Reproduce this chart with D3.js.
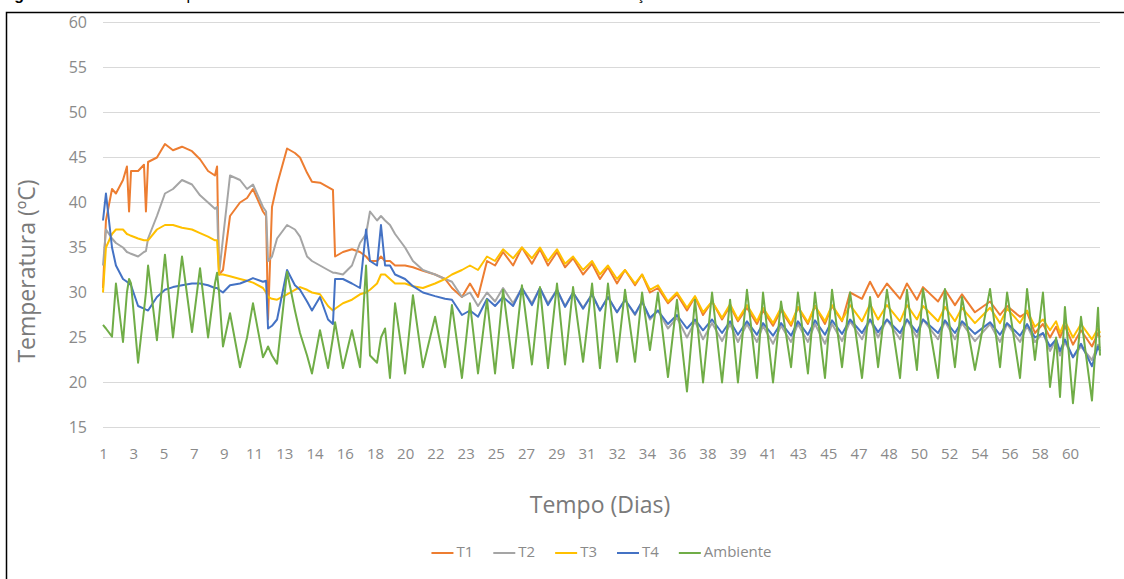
<!DOCTYPE html>
<html>
<head>
<meta charset="utf-8">
<script src="https://cdn.jsdelivr.net/npm/d3@7"></script>
<style>
  body { margin: 0; background: #fff; }
  svg { display: block; }
</style>
</head>
<body>
<svg id="chart" width="1124" height="579"></svg>
<script>
// reading times (days) shared by every series
const dias = [1.00,1.18,1.55,1.79,2.22,2.46,2.59,2.71,3.14,3.50,
  3.62,3.75,4.29,4.78,5.27,5.82,6.43,6.92,7.41,7.83,
  7.96,8.08,8.32,8.75,9.36,9.79,10.15,10.76,10.95,11.07,
  11.31,11.62,12.23,12.71,13.02,13.45,13.75,14.24,14.73,15.03,
  15.16,15.64,16.19,16.68,17.05,17.29,17.72,17.96,18.21,18.51,
  18.82,19.43,19.91,20.52,21.26,21.87,22.29,22.90,23.39,23.88,
  24.43,24.92,25.41,26.02,26.56,27.17,27.66,28.15,28.70,29.19,
  29.68,30.29,30.84,31.32,31.81,32.36,32.85,33.46,33.89,34.37,
  34.86,35.47,36.02,36.63,37.12,37.61,38.16,38.77,39.26,39.74,
  40.29,40.90,41.27,41.88,42.37,42.98,43.40,44.01,44.44,45.05,
  45.48,46.09,46.58,47.31,47.80,48.29,48.83,49.63,50.05,50.66,
  51.03,51.95,52.37,52.98,53.41,54.20,55.12,55.73,56.16,56.95,
  57.38,57.86,58.35,58.78,59.15,59.39,59.69,60.18,60.67,61.34,
  61.71,61.83];

const t1 = [30.5,38.0,41.5,41.0,42.5,44.0,39.0,43.5,43.5,44.2,
  39.0,44.5,45.0,46.5,45.8,46.2,45.7,44.8,43.5,43.0,
  44.0,32.0,32.5,38.5,40.0,40.5,41.5,39.0,38.5,27.0,
  39.5,42.0,46.0,45.5,45.0,43.3,42.3,42.2,41.7,41.4,
  34.0,34.5,34.8,34.5,34.0,33.5,33.5,34.0,33.5,33.5,
  33.0,33.0,32.8,32.4,32.0,31.5,30.5,29.5,31.0,29.5,
  33.5,33.0,34.5,33.0,35.0,33.2,34.8,33.0,34.5,32.8,
  33.8,32.0,33.2,31.5,32.8,31.0,32.5,30.8,32.0,30.0,
  30.5,28.8,29.8,28.0,29.5,27.5,29.0,27.0,28.5,26.8,
  28.3,26.5,28.0,26.3,28.0,26.3,28.3,26.5,28.5,26.5,
  28.5,26.8,30.0,29.3,31.2,29.5,31.0,29.3,31.0,29.2,
  30.6,29.0,30.3,28.6,29.8,27.8,29.0,27.5,28.5,27.3,
  27.8,25.5,26.5,25.0,26.2,25.0,26.3,24.2,25.8,24.0,
  25.5,25.0];

const t2 = [33.0,37.0,36.0,35.5,35.0,34.5,34.4,34.3,34.0,34.5,
  34.6,36.0,38.5,41.0,41.5,42.5,42.0,40.8,40.0,39.3,
  39.5,32.0,36.0,43.0,42.5,41.5,42.0,39.5,39.0,33.5,
  34.0,36.0,37.5,37.0,36.2,34.0,33.5,33.0,32.5,32.2,
  32.2,32.0,33.0,35.5,36.5,39.0,38.0,38.5,38.0,37.5,
  36.5,35.0,33.5,32.5,32.0,31.5,31.2,29.5,30.0,28.5,
  30.0,29.0,30.5,28.8,30.5,28.8,30.5,28.8,30.3,28.5,
  30.0,28.3,29.8,28.0,29.5,27.8,29.2,27.5,29.0,27.0,
  28.0,26.0,27.2,25.0,26.8,24.8,26.6,24.6,26.5,24.5,
  26.5,24.5,26.3,24.3,26.3,24.5,26.5,24.5,26.5,24.3,
  26.5,24.6,26.8,24.8,27.0,25.0,27.0,24.8,27.0,25.0,
  27.0,24.8,26.8,24.8,26.6,24.6,26.5,24.5,26.5,24.5,
  26.3,24.5,25.5,23.5,24.8,23.0,24.5,22.8,24.0,22.5,
  24.2,23.8];

const t3 = [30.0,35.0,36.5,37.0,37.0,36.5,36.4,36.3,36.0,35.8,
  35.8,35.8,37.0,37.5,37.5,37.2,37.0,36.6,36.2,35.8,
  35.8,32.0,32.0,31.8,31.5,31.3,31.1,30.5,30.0,29.5,
  29.3,29.2,29.8,30.3,30.6,30.3,30.0,29.8,28.5,28.0,
  28.2,28.8,29.2,29.8,30.0,30.3,31.0,32.0,32.0,31.5,
  31.0,31.0,30.7,30.5,31.0,31.5,32.0,32.5,33.0,32.5,
  34.0,33.5,34.8,33.8,35.0,33.8,35.0,33.5,34.8,33.2,
  34.0,32.5,33.5,32.0,33.0,31.5,32.5,31.0,32.0,30.3,
  30.8,29.0,30.0,28.3,29.6,27.8,29.0,27.2,28.7,27.0,
  28.6,26.8,28.3,26.6,28.3,26.5,28.4,26.7,28.5,26.8,
  28.6,26.9,28.6,26.8,28.7,27.0,28.6,26.8,28.6,27.0,
  28.5,26.8,28.4,26.8,28.3,26.6,28.3,26.6,28.2,26.6,
  28.0,26.2,27.0,25.8,26.8,25.5,26.8,25.0,26.5,24.8,
  26.0,25.5];

const t4 = [38.0,41.0,35.0,33.0,31.5,31.2,31.0,30.8,28.5,28.2,
  28.1,28.0,29.5,30.3,30.6,30.8,31.0,31.0,30.8,30.5,
  30.5,30.3,30.0,30.8,31.0,31.3,31.6,31.2,31.3,26.0,
  26.3,27.0,32.5,30.8,30.3,29.0,28.0,29.5,27.0,26.5,
  31.5,31.5,31.0,30.5,37.0,33.5,33.0,37.5,33.0,33.0,
  32.0,31.5,30.7,30.0,29.6,29.3,29.2,27.5,28.0,27.3,
  29.3,28.5,29.5,28.5,30.5,28.6,30.5,28.6,30.3,28.4,
  30.0,28.2,29.8,28.0,29.5,27.8,29.2,27.6,29.0,27.2,
  28.0,26.5,27.5,26.0,27.0,25.8,27.0,25.5,26.8,25.3,
  26.8,25.3,26.6,25.2,26.6,25.2,26.8,25.3,26.9,25.3,
  26.9,25.4,27.0,25.5,27.0,25.6,27.0,25.5,27.0,25.6,
  27.0,25.5,26.9,25.5,26.8,25.4,26.7,25.3,26.6,25.2,
  26.5,25.0,25.5,24.0,24.8,23.5,24.8,22.8,24.3,21.8,
  24.0,23.5];

const ambiente = [26.4,26.0,25.1,31.0,24.5,30.0,31.5,31.0,22.2,28.0,
  30.0,33.0,24.7,34.2,25.0,34.0,25.6,32.7,25.0,31.0,
  32.2,30.0,24.0,27.7,21.7,25.0,28.8,22.8,23.5,24.0,
  23.0,22.1,32.3,28.0,25.5,23.0,21.0,25.8,21.6,25.0,
  26.7,21.6,25.8,21.7,33.0,23.0,22.2,25.0,26.0,20.5,
  28.8,21.0,29.7,21.7,27.3,21.7,28.6,20.5,28.8,21.0,
  29.2,21.0,30.3,21.6,30.8,22.0,30.6,21.6,31.0,22.0,
  30.6,22.3,31.0,21.6,31.0,22.3,30.3,22.3,30.0,23.6,
  30.0,20.6,29.2,19.0,29.2,20.0,30.0,20.0,29.2,20.0,
  30.3,20.5,30.0,20.0,29.0,21.7,30.0,21.0,30.0,20.5,
  30.3,21.7,30.0,20.5,29.5,21.7,30.3,20.5,30.3,21.4,
  30.4,20.5,30.4,21.7,29.5,21.4,30.4,21.7,30.0,20.5,
  30.4,22.5,30.0,19.5,25.0,18.4,28.4,17.7,27.3,18.0,
  28.3,23.0];

const tickLabels = ["1","3","5","7","9","11","13","14","16","18","20","22","23","25","27","29",
  "31","32","34","36","38","39","41","43","45","47","48","50","52","54","56","58","60"];
const yTicks = [15, 20, 25, 30, 35, 40, 45, 50, 55, 60];

const series = [
  { name: "T1", values: t1, color: "#ED7D31" },
  { name: "T2", values: t2, color: "#A5A5A5" },
  { name: "T3", values: t3, color: "#FFC000" },
  { name: "T4", values: t4, color: "#4472C4" },
  { name: "Ambiente", values: ambiente, color: "#70AD47" }
];

const width = 1124, height = 579;
const margin = { top: 22.5, right: 24, bottom: 151.5, left: 103 };
const font = "'Open Sans', 'DejaVu Sans', sans-serif";
const labelColor = "#8a8a8a";

const svg = d3.select("#chart");

const x = d3.scaleLinear().domain([1, 61.83]).range([margin.left, width - margin.right]);
const y = d3.scaleLinear().domain([15, 60]).range([height - margin.bottom, margin.top]);
// category labels are spread evenly from day 1 to day 60, like the spreadsheet does
const xLab = d3.scalePoint().domain(tickLabels).range([x(1), x(60)]);

// cut-off caption at the very top of the page
const cap = svg.append("text")
  .attr("x", 0).attr("y", 0)
  .style("font-family", "'Liberation Sans', Arial, sans-serif")
  .style("font-size", "16px")
  .attr("fill", "#000");
cap.append("tspan").style("font-weight", "bold").text("Figura 5 – ");
cap.append("tspan").text("Valores de temperatura das leiras e do ambiente durante o tratamento de aeração");

// frame
svg.append("rect")
  .attr("x", 6.5).attr("y", 12.5)
  .attr("width", width + 20).attr("height", height + 20)
  .attr("fill", "none")
  .attr("stroke", "#000")
  .attr("stroke-width", 1.5);

// horizontal gridlines
svg.append("g")
  .selectAll("line")
  .data(yTicks)
  .join("line")
  .attr("x1", x.range()[0]).attr("x2", x.range()[1])
  .attr("y1", d => y(d)).attr("y2", d => y(d))
  .attr("stroke", "#d9d9d9")
  .attr("stroke-width", 1);

// y axis labels
const yAxis = svg.append("g")
  .attr("transform", "translate(87,0)")
  .call(d3.axisLeft(y).tickValues(yTicks).tickSize(0).tickPadding(0));
yAxis.select(".domain").remove();
yAxis.selectAll("text")
  .style("font-family", font)
  .style("font-size", "16px")
  .attr("fill", labelColor);

// x axis labels
const xAxis = svg.append("g")
  .attr("transform", `translate(0,${y(15)})`)
  .call(d3.axisBottom(xLab).tickSize(0).tickPadding(21));
xAxis.select(".domain").remove();
xAxis.selectAll("text")
  .style("font-family", font)
  .style("font-size", "15px")
  .attr("fill", labelColor);

// series lines
const line = d3.line()
  .x(d => x(d[0]))
  .y(d => y(d[1]));

svg.append("g")
  .selectAll("path")
  .data(series)
  .join("path")
  .attr("d", s => line(dias.map((d, i) => [d, s.values[i]])))
  .attr("fill", "none")
  .attr("stroke", s => s.color)
  .attr("stroke-width", 2)
  .attr("stroke-linejoin", "round");

// axis titles
svg.append("text")
  .attr("x", 600).attr("y", 507)
  .attr("text-anchor", "middle")
  .attr("dominant-baseline", "middle")
  .style("font-family", font)
  .style("font-size", "23px")
  .attr("fill", "#7a7a7a")
  .text("Tempo (Dias)");

svg.append("text")
  .attr("transform", "translate(29,271) rotate(-90)")
  .attr("text-anchor", "middle")
  .attr("dominant-baseline", "middle")
  .style("font-family", font)
  .style("font-size", "23px")
  .attr("fill", "#7a7a7a")
  .text("Temperatura (ºC)");

// legend, centred under the plot
const legend = svg.append("g");
let cx = 0;
series.forEach(s => {
  const g = legend.append("g").attr("transform", `translate(${cx},0)`);
  g.append("line")
    .attr("x1", 0).attr("x2", 22)
    .attr("stroke", s.color)
    .attr("stroke-width", 2);
  const t = g.append("text")
    .attr("x", 25)
    .attr("dominant-baseline", "middle")
    .style("font-family", font)
    .style("font-size", "15px")
    .attr("fill", labelColor)
    .text(s.name);
  cx += 25 + t.node().getComputedTextLength() + 20;
});
const legendWidth = cx - 20;
legend.attr("transform", `translate(${(x.range()[0] + x.range()[1]) / 2 - legendWidth / 2},553)`);
</script>
</body>
</html>
